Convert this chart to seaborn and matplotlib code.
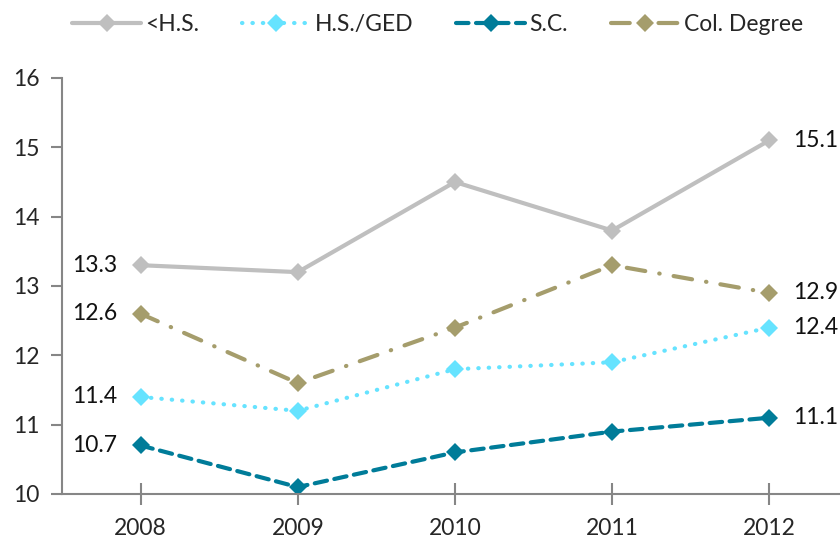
import pandas as pd
import matplotlib
matplotlib.use("Agg")
import matplotlib.pyplot as plt
import seaborn as sns

# ------------------------------------
# Data
# ------------------------------------
years = ["2008", "2009", "2010", "2011", "2012"]
series_names = ["<H.S.", "H.S./GED", "S.C.", "Col. Degree"]
lt_hs = [13.3, 13.2, 14.5, 13.8, 15.1]
hs_ged = [11.4, 11.2, 11.8, 11.9, 12.4]
some_college = [10.7, 10.1, 10.6, 10.9, 11.1]
col_degree = [12.6, 11.6, 12.4, 13.3, 12.9]

colors = ["#BFBFBF", "#66E3FF", "#007C99", "#A59D6C"]
dashes = ["-", (0, (0.1, 2.4)), (0, (3.0, 1.8)), (0, (4.5, 3.4, 0.1, 3.4))]

sns.set_style("white")
plt.rcParams["font.family"] = ["Lato", "DejaVu Sans"]
FS = 16.5

df = pd.DataFrame({
    "year": years * 4,
    "x": list(range(len(years))) * 4,
    "value": lt_hs + hs_ged + some_college + col_degree,
    "series": [s for s in series_names for _ in years],
})

fig = plt.figure(figsize=(8.4, 5.42), dpi=100)
ax = fig.add_axes([62 / 840, 48 / 542, 778 / 840, 416 / 542])

handles = []
for name, color, ls in zip(series_names, colors, dashes):
    sub = df[df["series"] == name]
    sns.lineplot(data=sub, x="x", y="value", ax=ax, color=color,
                 linewidth=3.0, marker="D", markersize=9.5,
                 markeredgewidth=0, legend=False)
    line = ax.get_lines()[-1]
    line.set_linestyle(ls)
    line.set_dash_capstyle("round")
    line.set_label(name)
    handles.append(line)

# value labels at both ends
for vals in [lt_hs, hs_ged, some_college, col_degree]:
    ax.annotate(f"{vals[0]:.1f}", (0, vals[0]), xytext=(-17, 0),
                textcoords="offset points", ha="right", va="center",
                fontsize=FS, color="#111111")
    ax.annotate(f"{vals[-1]:.1f}", (4, vals[-1]), xytext=(17, 0),
                textcoords="offset points", ha="left", va="center",
                fontsize=FS, color="#111111")

ax.set_xlim(-0.5, 4.45)
ax.set_ylim(10, 16)
ax.set_xticks(range(len(years)))
ax.set_xticklabels(years)
ax.set_yticks(range(10, 17))
ax.set_xlabel("")
ax.set_ylabel("")

for side in ["top", "right"]:
    ax.spines[side].set_visible(False)
for side in ["left", "bottom"]:
    ax.spines[side].set_color("#868686")
    ax.spines[side].set_linewidth(1.5)

ax.tick_params(axis="y", direction="out", length=8, width=1.5,
               color="#868686", labelsize=FS, pad=8, left=True)
ax.tick_params(axis="x", direction="inout", length=16, width=1.5,
               color="#868686", labelsize=FS, pad=9, bottom=True)

fig.legend(handles=handles, loc="upper center", bbox_to_anchor=(0.521, 1.012),
           ncol=4, frameon=False, fontsize=FS, handlelength=3.0,
           columnspacing=1.85, handletextpad=0.2)

plt.savefig("out.png", dpi=100)
plt.close()
